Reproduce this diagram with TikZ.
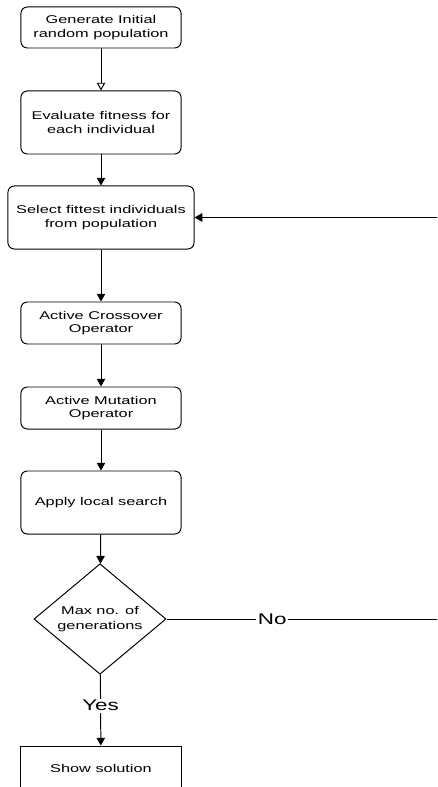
\documentclass[tikz,border=0pt]{standalone}
\usepackage{fontspec}
\setmainfont{Liberation Sans}[FakeStretch=1.45]
\usetikzlibrary{shapes.geometric,arrows.meta}

\begin{document}
\begin{tikzpicture}[x=0.025cm, y=-0.025cm, line width=0.7pt,
		box/.style={rectangle, rounded corners=4.5pt, draw=black, minimum width=4cm, align=center, inner sep=1pt, font=\fontsize{8}{9.6}\selectfont},
		plainbox/.style={box, rounded corners=0pt},
		decide/.style={diamond, draw=black, minimum width=3.3cm, minimum height=2.6cm, inner sep=0pt, align=center, font=\fontsize{8}{10.5}\selectfont},
		lbl/.style={fill=white, inner sep=1pt, font=\fontsize{11}{12}\selectfont},
		arr/.style={-{Triangle[length=5.5pt,width=6pt]}},
		openarr/.style={-{Triangle[open,length=5.5pt,width=6pt]}}]
				\useasboundingbox (0,0) rectangle (437,787);
				\clip (0,0) rectangle (437,787);
				
				\node[box, minimum height=1.025cm] (gen) at (101,27.5){Generate Initial\\random population};
				\node[box, minimum height=1.575cm] (eval) at (101,122.5){Evaluate fitness for\\each individual};
				\node[box, minimum height=1.575cm, minimum width=4.65cm] (sel) at (101,217.5){Select fittest individuals\\from population};
				\node[box, minimum height=1.05cm] (cross) at (101,323){Active Crossover\\Operator};
				\node[box, minimum height=1.05cm] (mut) at (101,408){Active Mutation\\Operator};
				\node[box, minimum height=1.575cm] (search) at (101,502.5){Apply local search};
				\node[decide] (dec) at (100,619){Max no. of\\generations};
				\node[plainbox, minimum height=1.1cm] (show) at (101,768){Show solution};
				
				\coordinate (back) at (460,619);
				
				\path (gen) edge[openarr] (eval);
				\path (eval) edge[arr] (sel);
				\path (sel) edge[arr] (cross);
				\path (cross) edge[arr] (mut);
				\path (mut) edge[arr] (search);
				\path (search) edge[arr] (dec);
				\draw[arr] (dec) -- node[lbl, pos=0.44] (yes) {Yes} (show);
				\draw[arr] (dec.east) -- node[lbl, pos=0.36] (no) {No} (back) |- (sel.east);
				\end{tikzpicture}
\end{document}
